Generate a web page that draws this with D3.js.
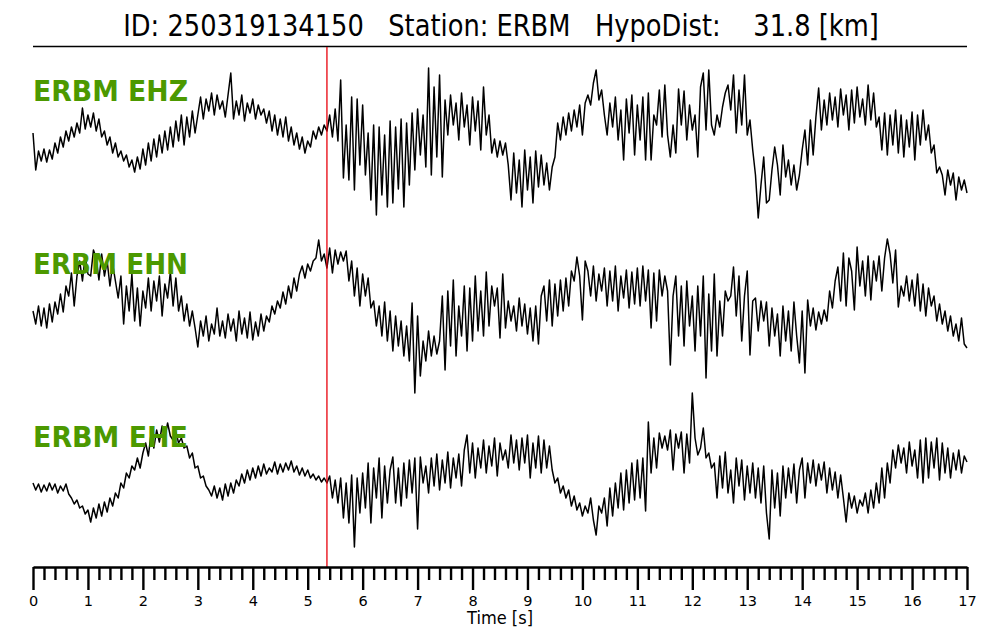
<!DOCTYPE html>
<html>
<head>
<meta charset="utf-8">
<script src="https://cdn.jsdelivr.net/npm/d3@7"></script>
<style>
  html, body { margin: 0; padding: 0; background: #fff; }
  svg { display: block; }
  text { font-family: "DejaVu Sans", sans-serif; white-space: pre; }
</style>
</head>
<body>
<svg id="chart" width="1000" height="640"></svg>
<script>
// ---------------- data ----------------
const titleText = "ID: 250319134150   Station: ERBM   HypoDist:    31.8 [km]";
const channels = ["ERBM EHZ", "ERBM EHN", "ERBM EHE"];
const sampleInterval = 0.05;   // seconds
const pickTime = 5.35;         // seconds
const tickValues = [0,1,2,3,4,5,6,7,8,9,10,11,12,13,14,15,16,17];
const tickLabels = ["0","1","2","3","4","5","6","7","8","9","10","11","12","13","14","15","16","17"];
const axisLabel = "Time [s]";

// amplitudes (arbitrary counts, positive up), one sample every 0.05 s
const ehz = [
  12,-25,-6,-16,-4,-17,-5,-14,2,-8,8,-2,14,4,18,8,22,12,37,16,
  30,18,32,14,26,8,14,0,8,-8,2,-12,-6,-16,-10,-22,-15,-27,-12,-24,
  -4,-20,2,-16,6,-12,10,-8,14,-5,18,-2,24,4,30,0,28,8,34,12,
  30,48,26,46,34,52,30,50,36,44,28,50,72,26,44,30,50,24,42,32,
  46,26,40,30,36,22,34,14,30,10,26,8,28,4,18,0,12,-4,8,-8,
  4,-2,14,6,18,10,20,14,30,8,36,4,65,-33,20,-35,48,-45,46,-20,
  40,-30,12,-55,20,-70,18,-50,10,-62,24,-58,18,-44,26,-62,22,-40,32,-25,
  36,-10,30,-22,77,-30,58,-12,70,-32,45,10,50,20,42,5,52,18,40,0,
  48,14,44,-5,58,10,30,-8,6,-12,4,-10,2,-20,-55,-8,-48,-15,-62,-5,
  -45,-12,-58,-6,-42,-10,-40,-18,-45,-22,-12,22,5,28,10,32,14,35,18,40,
  10,42,50,40,62,75,45,55,30,10,42,18,48,5,35,-15,46,12,50,-10,
  40,5,48,-15,52,-15,30,20,55,8,60,10,-12,20,-8,56,20,54,5,40,
  15,30,-12,58,72,15,75,20,10,30,18,38,52,60,35,70,12,55,20,70,
  10,25,-5,-30,-73,-40,-12,-58,-55,-25,-2,-20,-50,0,-32,-15,-40,-20,-45,-30,
  -5,15,-20,25,-10,28,57,15,45,20,52,25,48,18,56,30,50,15,55,22,
  58,28,46,20,60,25,52,18,28,-5,32,-10,30,0,35,-8,30,-12,25,-2,
  33,-15,30,0,35,5,20,-8,0,-28,-22,-30,-50,-25,-40,-28,-55,-32,-45,-35,-48
];
const ehn = [
  5,-8,10,-10,8,-12,12,-6,14,2,22,4,30,20,43,10,40,55,35,60,
  42,40,66,58,36,62,40,55,30,52,35,18,40,-8,30,5,42,-5,28,-10,
  25,8,38,5,35,15,40,0,32,18,44,10,38,5,20,-5,12,-10,5,-12,
  -31,-5,-20,0,-25,-8,-18,8,-20,-5,-22,2,-15,-3,-25,5,-18,-2,-22,4,
  -24,-6,-20,2,-15,0,-6,10,2,15,8,24,12,30,18,38,25,42,50,38,
  52,45,55,58,76,55,62,48,68,43,66,52,64,55,65,35,55,20,48,10,
  42,20,38,8,15,-10,10,-20,14,-25,5,-35,0,-30,-5,-40,-10,-45,13,-77,
  0,-60,-25,-45,-15,-40,-20,-38,-25,20,-54,25,-30,36,-40,10,-20,30,-35,28,
  -25,40,-15,25,-20,44,-10,30,10,28,-22,42,-12,15,-5,10,-15,18,-10,12,
  -18,8,-25,10,-28,20,30,-5,36,-10,32,0,36,5,38,10,45,35,59,40,
  -4,55,45,20,50,15,42,25,48,10,45,15,50,5,40,18,46,8,44,12,
  48,10,50,15,46,-12,43,-5,46,20,40,25,-49,20,40,-20,30,-30,35,-10,
  20,-35,30,-20,40,-62,22,-35,42,-40,15,-20,25,15,20,49,0,40,-25,20,
  45,-39,15,18,-15,15,-5,14,-30,8,-20,2,-40,10,-25,5,-35,14,-20,-47,
  5,-57,16,-10,8,-14,4,-8,6,-5,25,8,35,49,15,63,10,58,45,6,
  69,30,55,20,60,16,55,35,60,25,58,77,62,33,66,9,30,20,40,15,
  36,10,42,5,32,0,28,10,20,-5,12,-8,5,-15,0,-20,-8,-25,-2,-28,-32
];
const ehe = [
  -5,-12,-6,-14,-7,-13,-5,-12,-6,-15,-8,-13,-6,-16,-20,-26,-22,-30,-28,-36,
  -32,-44,-30,-40,-26,-38,-24,-34,-20,-28,-15,-20,-5,-10,5,0,12,8,20,10,
  25,35,22,45,30,48,36,52,40,55,42,38,46,35,40,30,32,20,25,10,
  12,0,2,-8,-12,-18,-8,-20,-10,-22,-6,-18,-5,-15,-2,-8,4,-5,8,-2,
  10,0,12,2,14,4,10,6,16,4,14,6,15,8,17,6,12,3,10,2,
  8,0,4,-2,2,-4,0,-5,2,-20,-2,-25,0,-40,-5,-45,3,-69,0,-35,
  5,-30,15,-45,10,-20,20,-40,12,-25,8,21,-25,10,-28,15,-20,18,-15,20,
  -51,21,-5,12,-15,20,-8,24,-12,18,-5,26,-10,20,0,24,-8,28,43,5,
  35,0,30,10,38,5,32,12,40,2,35,18,28,10,43,15,38,8,40,15,
  43,0,35,10,42,5,38,10,32,8,-5,0,-15,-8,-20,-12,-28,-18,-32,-25,
  -38,-28,-35,-20,-42,-57,-28,-35,-20,-48,-10,-38,-5,-30,5,-32,8,-25,15,-22,
  18,-20,20,-33,56,5,40,10,45,30,42,28,48,8,44,30,46,5,44,15,
  85,40,23,30,50,20,25,10,15,-20,22,-10,26,-15,8,-25,20,-8,18,-22,
  12,-15,15,-20,10,-25,12,-35,-61,8,-30,5,-38,12,-20,10,-15,14,-25,8,
  20,-20,15,-5,18,-8,14,-2,16,-15,10,-12,6,-20,3,-20,-44,-15,-30,-18,
  -35,-22,-28,-15,-35,-12,-30,-5,-25,10,-20,15,-5,28,10,33,15,30,5,36,
  12,28,0,38,-5,40,0,36,10,40,-2,35,5,30,0,25,8,28,5,22,16
];
const traces = [ehz, ehn, ehe];

// ---------------- layout ----------------
const svg = d3.select("#chart");
const left = 33, right = 967;
const axisY = 567;
const traceCenters = [145, 316, 478];
const labelBaselines = [101, 274, 447];

const x = d3.scaleLinear().domain([0, 17]).range([left, right]);

// title (horizontally condensed like the reference)
svg.append("g")
  .attr("transform", "translate(501,36) scale(0.83,1)")
  .append("text")
  .attr("x", 0).attr("y", 0)
  .attr("text-anchor", "middle")
  .attr("font-size", 31)
  .attr("fill", "#000")
  .text(titleText);

svg.append("line")
  .attr("x1", left).attr("x2", right)
  .attr("y1", 46.5).attr("y2", 46.5)
  .attr("stroke", "#000").attr("stroke-width", 1.6);

// traces
traces.forEach((data, k) => {
  const c = traceCenters[k];
  const y = d3.scaleLinear().domain([-100, 100]).range([c + 100, c - 100]);
  const line = d3.line()
    .x((d, i) => x(i * sampleInterval))
    .y(d => y(d));
  svg.append("path")
    .datum(data)
    .attr("d", line)
    .attr("fill", "none")
    .attr("stroke", "#000")
    .attr("stroke-width", 1.5)
    .attr("stroke-linejoin", "round");
});

// channel labels
channels.forEach((name, k) => {
  svg.append("text")
    .attr("x", left)
    .attr("y", labelBaselines[k])
    .attr("font-size", 28)
    .attr("font-weight", "bold")
    .attr("fill", "#4c9900")
    .attr("textLength", 155)
    .attr("lengthAdjust", "spacingAndGlyphs")
    .text(name);
});

// pick line
svg.append("line")
  .attr("x1", x(pickTime)).attr("x2", x(pickTime))
  .attr("y1", 47).attr("y2", axisY)
  .attr("stroke", "#e8000b").attr("stroke-width", 1.3);

// axis
const minorTicks = d3.range(0, 85 + 1).map(i => i * 0.2).filter(v => Math.abs(v - Math.round(v)) > 1e-6);

const minorAxis = d3.axisBottom(x)
  .tickValues(minorTicks)
  .tickSize(13)
  .tickSizeOuter(0)
  .tickFormat("");
const gMinor = svg.append("g").attr("transform", `translate(0,${axisY})`).call(minorAxis);
gMinor.select(".domain").remove();
gMinor.selectAll(".tick line").attr("stroke", "#000").attr("stroke-width", 2.4);

const majorAxis = d3.axisBottom(x)
  .tickValues(tickValues)
  .tickSize(23)
  .tickSizeOuter(0)
  .tickPadding(6)
  .tickFormat((d, i) => tickLabels[i]);
const gMajor = svg.append("g").attr("transform", `translate(0,${axisY})`).call(majorAxis);
gMajor.select(".domain").attr("stroke", "#000").attr("stroke-width", 2.6);
gMajor.selectAll(".tick line").attr("stroke", "#000").attr("stroke-width", 2.4);
gMajor.selectAll(".tick text")
  .attr("font-family", "DejaVu Sans, sans-serif")
  .attr("font-size", 14.5)
  .attr("fill", "#000");

svg.append("text")
  .attr("x", 500).attr("y", 624)
  .attr("text-anchor", "middle")
  .attr("font-size", 17)
  .attr("textLength", 66)
  .attr("lengthAdjust", "spacingAndGlyphs")
  .attr("fill", "#000")
  .text(axisLabel);
</script>
</body>
</html>
